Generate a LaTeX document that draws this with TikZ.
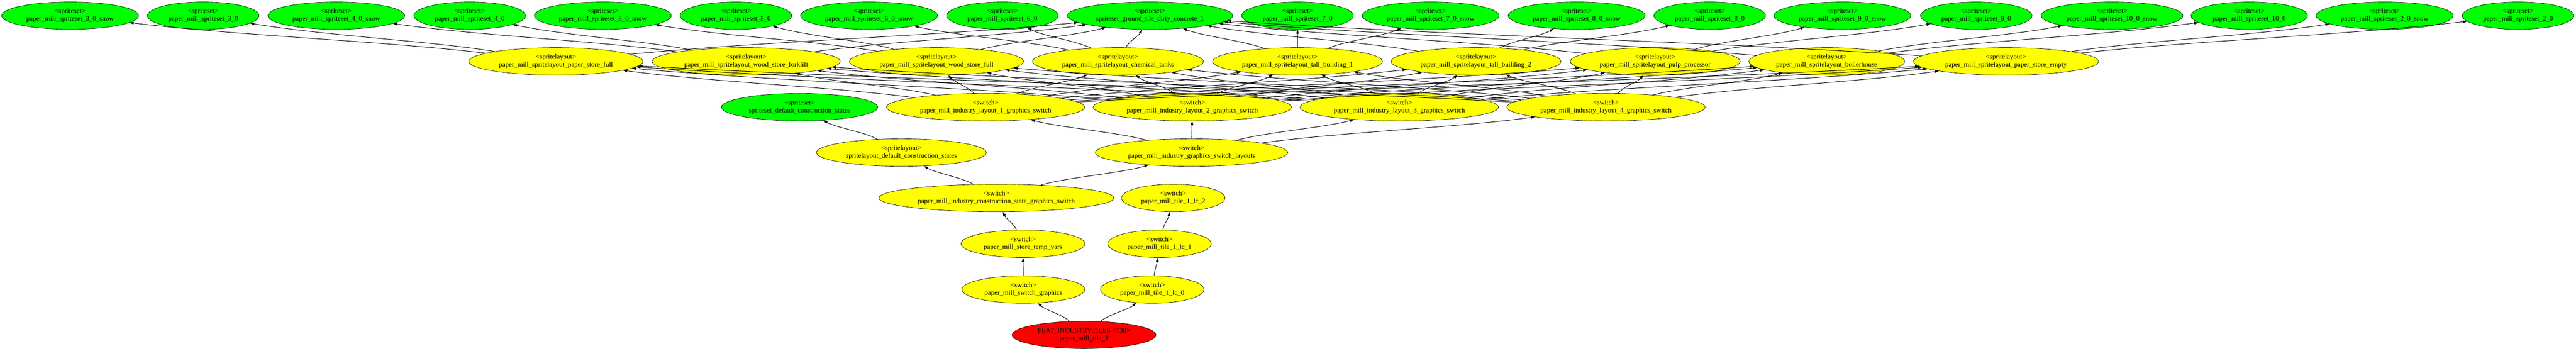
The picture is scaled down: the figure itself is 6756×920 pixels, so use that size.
\documentclass[tikz,border=0pt]{standalone}
\usepackage{fontspec}
\setmainfont{Liberation Serif}
\usetikzlibrary{shapes.geometric,arrows.meta,calc}
\definecolor{gvgreen}{RGB}{0,255,0}
\definecolor{gvyellow}{RGB}{255,255,0}
\definecolor{gvred}{RGB}{255,0,0}
\tikzset{
  gvnode/.style={ellipse,draw=black,line width=0.9pt,align=center,inner xsep=12pt,inner ysep=5pt,minimum height=72pt,font=\fontsize{18}{20}\selectfont},
  gnode/.style={gvnode,fill=gvgreen},
  ynode/.style={gvnode,fill=gvyellow},
  rnode/.style={gvnode,fill=gvred},
  gvline/.style={line width=1.3pt,-{Triangle[length=11pt,width=7pt]}}
}
\newcommand\gvedge[2]{\draw[gvline] let \p1=(#1.center), \p2=(#2.center) in (#1) .. controls ({\x1+0.36*(\x2-\x1)},{\y1+0.45*(\y2-\y1)}) and ({\x2-0.36*(\x2-\x1)},{\y2-0.45*(\y2-\y1)}) .. (#2);}
\begin{document}
\begin{tikzpicture}[x=1pt,y=-1pt]
\useasboundingbox (0,0) rectangle (6756,920);
% row 1 spritesets
\node[gnode] (s3s) at (184,41) {<spriteset>\\paper\_mill\_spriteset\_3\_0\_snow};
\node[gnode] (s30) at (533,41) {<spriteset>\\paper\_mill\_spriteset\_3\_0};
\node[gnode] (s4s) at (882,41) {<spriteset>\\paper\_mill\_spriteset\_4\_0\_snow};
\node[gnode] (s40) at (1232,41) {<spriteset>\\paper\_mill\_spriteset\_4\_0};
\node[gnode] (s5s) at (1581,41) {<spriteset>\\paper\_mill\_spriteset\_5\_0\_snow};
\node[gnode] (s50) at (1930,41) {<spriteset>\\paper\_mill\_spriteset\_5\_0};
\node[gnode] (s6s) at (2279,41) {<spriteset>\\paper\_mill\_spriteset\_6\_0\_snow};
\node[gnode] (s60) at (2629,41) {<spriteset>\\paper\_mill\_spriteset\_6\_0};
\node[gnode] (gt) at (3016,41) {<spriteset>\\spriteset\_ground\_tile\_dirty\_concrete\_1};
\node[gnode] (s70) at (3403,41) {<spriteset>\\paper\_mill\_spriteset\_7\_0};
\node[gnode] (s7s) at (3752,41) {<spriteset>\\paper\_mill\_spriteset\_7\_0\_snow};
\node[gnode] (s8s) at (4135,41) {<spriteset>\\paper\_mill\_spriteset\_8\_0\_snow};
\node[gnode] (s80) at (4484,41) {<spriteset>\\paper\_mill\_spriteset\_8\_0};
\node[gnode] (s9s) at (4832,41) {<spriteset>\\paper\_mill\_spriteset\_9\_0\_snow};
\node[gnode] (s90) at (5183,41) {<spriteset>\\paper\_mill\_spriteset\_9\_0};
\node[gnode] (s10s) at (5539,41) {<spriteset>\\paper\_mill\_spriteset\_10\_0\_snow};
\node[gnode] (s100) at (5899,41) {<spriteset>\\paper\_mill\_spriteset\_10\_0};
\node[gnode] (s2s) at (6254,41) {<spriteset>\\paper\_mill\_spriteset\_2\_0\_snow};
\node[gnode] (s20) at (6604,41) {<spriteset>\\paper\_mill\_spriteset\_2\_0};
% row 2 spritelayouts
\node[ynode] (psf) at (1458,161) {<spritelayout>\\paper\_mill\_spritelayout\_paper\_store\_full};
\node[ynode] (wsk) at (1957,161) {<spritelayout>\\paper\_mill\_spritelayout\_wood\_store\_forklift};
\node[ynode] (wsf) at (2456,161) {<spritelayout>\\paper\_mill\_spritelayout\_wood\_store\_full};
\node[ynode] (ct) at (2932,161) {<spritelayout>\\paper\_mill\_spritelayout\_chemical\_tanks};
\node[ynode] (tb1) at (3403,161) {<spritelayout>\\paper\_mill\_spritelayout\_tall\_building\_1};
\node[ynode] (tb2) at (3871,161) {<spritelayout>\\paper\_mill\_spritelayout\_tall\_building\_2};
\node[ynode] (pp) at (4341,161) {<spritelayout>\\paper\_mill\_spritelayout\_pulp\_processor};
\node[ynode] (bh) at (4791,161) {<spritelayout>\\paper\_mill\_spritelayout\_boilerhouse};
\node[ynode] (pse) at (5261,161) {<spritelayout>\\paper\_mill\_spritelayout\_paper\_store\_empty};
% row 3
\node[gnode] (sdcs) at (2097,281) {<spriteset>\\spriteset\_default\_construction\_states};
\node[ynode] (l1) at (2585,281) {<switch>\\paper\_mill\_industry\_layout\_1\_graphics\_switch};
\node[ynode] (l2) at (3127,281) {<switch>\\paper\_mill\_industry\_layout\_2\_graphics\_switch};
\node[ynode] (l3) at (3670,281) {<switch>\\paper\_mill\_industry\_layout\_3\_graphics\_switch};
\node[ynode] (l4) at (4212,281) {<switch>\\paper\_mill\_industry\_layout\_4\_graphics\_switch};
% row 4
\node[ynode] (sldcs) at (2364,400) {<spritelayout>\\spritelayout\_default\_construction\_states};
\node[ynode] (gsl) at (3125,400) {<switch>\\paper\_mill\_industry\_graphics\_switch\_layouts};
% row 5
\node[ynode] (csg) at (2613,519) {<switch>\\paper\_mill\_industry\_construction\_state\_graphics\_switch};
\node[ynode] (lc2) at (3077,519) {<switch>\\paper\_mill\_tile\_1\_lc\_2};
% row 6
\node[ynode] (stv) at (2683,639) {<switch>\\paper\_mill\_store\_temp\_vars};
\node[ynode] (lc1) at (3041,639) {<switch>\\paper\_mill\_tile\_1\_lc\_1};
% row 7
\node[ynode] (sg) at (2684,759) {<switch>\\paper\_mill\_switch\_graphics};
\node[ynode] (lc0) at (3022,759) {<switch>\\paper\_mill\_tile\_1\_lc\_0};
% row 8
\node[rnode] (feat) at (2843,878) {FEAT\_INDUSTRYTILES <138>\\paper\_mill\_tile\_1};
% edges row 2 -> row 1
\gvedge{psf}{s3s}\gvedge{psf}{s30}\gvedge{psf}{gt}
\gvedge{wsk}{s4s}\gvedge{wsk}{s40}\gvedge{wsk}{gt}
\gvedge{wsf}{s5s}\gvedge{wsf}{s50}\gvedge{wsf}{gt}
\gvedge{ct}{s6s}\gvedge{ct}{s60}\gvedge{ct}{gt}
\gvedge{tb1}{s70}\gvedge{tb1}{s7s}\gvedge{tb1}{gt}
\gvedge{tb2}{s8s}\gvedge{tb2}{s80}\gvedge{tb2}{gt}
\gvedge{pp}{s9s}\gvedge{pp}{s90}\gvedge{pp}{gt}
\gvedge{bh}{s10s}\gvedge{bh}{s100}\gvedge{bh}{gt}
\gvedge{pse}{s2s}\gvedge{pse}{s20}\gvedge{pse}{gt}
% edges row 3 -> row 2
\foreach \l in {l1,l2,l3,l4}{
  \foreach \t in {psf,wsk,wsf,ct,tb1,tb2,pp,bh,pse}{
    \gvedge{\l}{\t}
  }
}
% lower edges
\gvedge{gsl}{l1}\gvedge{gsl}{l2}\gvedge{gsl}{l3}\gvedge{gsl}{l4}
\gvedge{sldcs}{sdcs}
\gvedge{csg}{sldcs}\gvedge{csg}{gsl}
\gvedge{stv}{csg}
\gvedge{sg}{stv}
\gvedge{lc1}{lc2}
\gvedge{lc0}{lc1}
\gvedge{feat}{sg}\gvedge{feat}{lc0}
\end{tikzpicture}
\end{document}
